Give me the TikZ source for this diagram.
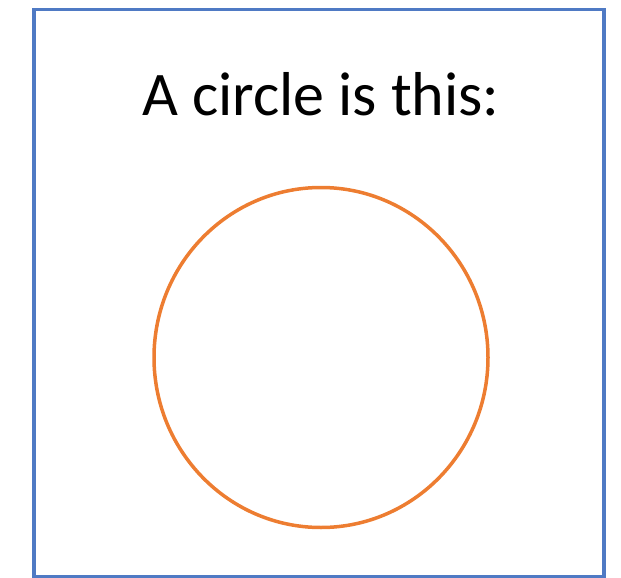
\documentclass[tikz,border=0pt]{standalone}
\usepackage{fontspec}
\setmainfont{Carlito}
\definecolor{frameblue}{RGB}{79,122,196}
\definecolor{circorange}{RGB}{237,125,49}
\begin{document}
\begin{tikzpicture}[x=1pt,y=-1pt,
  framebox/.style={draw=frameblue,line width=3.5pt},
  shapeline/.style={draw=circorange,line width=3.5pt}]
\useasboundingbox (0,0) rectangle (621,578);
\node[framebox,minimum width=570pt,minimum height=567pt,inner sep=0pt] (frame) at (319,293) {};
\node[font=\fontsize{62}{72}\selectfont,inner sep=0pt,anchor=base] (title) at (321,115) {A circle is this:};
\draw[shapeline] (321,357.5) ellipse [x radius=167, y radius=170];
\end{tikzpicture}
\end{document}
